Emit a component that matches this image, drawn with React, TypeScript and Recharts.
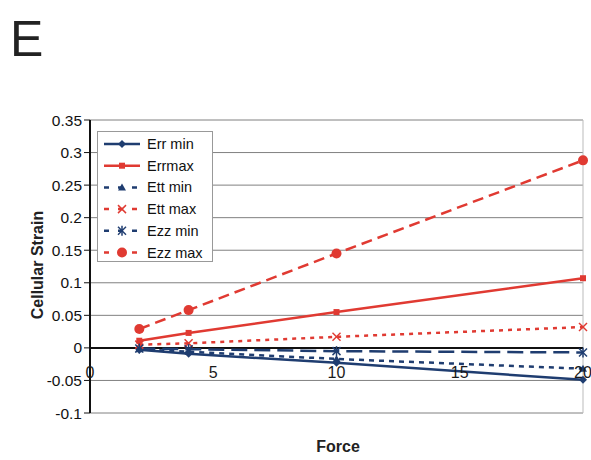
import React from "react";
import {
  CartesianGrid,
  Line,
  LineChart,
  ReferenceLine,
  XAxis,
  YAxis,
} from "recharts";

const forces = [2, 4, 10, 20];
const errMin = [-0.003, -0.009, -0.023, -0.049];
const errMax = [0.011, 0.023, 0.055, 0.107];
const ettMin = [-0.002, -0.006, -0.017, -0.032];
const ettMax = [0.005, 0.007, 0.017, 0.032];
const ezzMin = [-0.001, -0.002, -0.005, -0.007];
const ezzMax = [0.029, 0.058, 0.145, 0.288];

const xTicks = [0, 5, 10, 15, 20];
const yTicks = [-0.1, -0.05, 0, 0.05, 0.1, 0.15, 0.2, 0.25, 0.3, 0.35];

const NAVY = "#1f3d70";
const RED = "#e03a32";
const FONT = "'Liberation Sans', Arial, sans-serif";

type Shape = "diamond" | "square" | "triangle" | "cross" | "star" | "circle";

const SERIES: { key: string; name: string; color: string; dash?: string; shape: Shape }[] = [
  { key: "errMin", name: "Err min", color: NAVY, shape: "diamond" },
  { key: "errMax", name: "Errmax", color: RED, shape: "square" },
  { key: "ettMin", name: "Ett min", color: NAVY, dash: "5 5", shape: "triangle" },
  { key: "ettMax", name: "Ett max", color: RED, dash: "4 5", shape: "cross" },
  { key: "ezzMin", name: "Ezz min", color: NAVY, dash: "16 7", shape: "star" },
  { key: "ezzMax", name: "Ezz max", color: RED, dash: "11 6", shape: "circle" },
];

const data = forces.map((f, i) => ({
  force: f,
  errMin: errMin[i],
  errMax: errMax[i],
  ettMin: ettMin[i],
  ettMax: ettMax[i],
  ezzMin: ezzMin[i],
  ezzMax: ezzMax[i],
}));

function Marker({ shape, cx, cy, color }: { shape: Shape; cx: number; cy: number; color: string }) {
  if (shape === "diamond")
    return <polygon points={`${cx},${cy - 4} ${cx + 4},${cy} ${cx},${cy + 4} ${cx - 4},${cy}`} fill={color} />;
  if (shape === "square") return <rect x={cx - 3} y={cy - 3} width={6} height={6} fill={color} />;
  if (shape === "triangle")
    return <polygon points={`${cx},${cy - 4} ${cx + 4},${cy + 3} ${cx - 4},${cy + 3}`} fill={color} />;
  if (shape === "circle") return <circle cx={cx} cy={cy} r={5} fill={color} />;
  const s = 4;
  return (
    <g stroke={color} strokeWidth={1.5}>
      <line x1={cx - s} y1={cy - s} x2={cx + s} y2={cy + s} />
      <line x1={cx - s} y1={cy + s} x2={cx + s} y2={cy - s} />
      {shape === "star" && <line x1={cx} y1={cy - s - 1} x2={cx} y2={cy + s + 1} />}
    </g>
  );
}

// x labels sit just under the zero line, like the spreadsheet original
function XTick(props: any) {
  const { x, y, payload } = props;
  return (
    <text x={x} y={y - 54} dy="0.71em" textAnchor="middle" fontSize={16} fill="#1a1a1a" fontFamily={FONT}>
      {payload.value}
    </text>
  );
}

function LegendBox() {
  return (
    <div
      style={{
        position: "absolute",
        left: 97,
        top: 131,
        width: 114,
        height: 129,
        border: "1px solid #999",
        background: "#fff",
        fontFamily: FONT,
      }}
    >
      <svg width={114} height={129}>
        {SERIES.map((s, i) => {
          const cy = 12 + i * 21.7;
          return (
            <g key={s.key}>
              <line
                x1={6}
                x2={42}
                y1={cy}
                y2={cy}
                stroke={s.color}
                strokeWidth={2.5}
                strokeDasharray={s.dash ? "5 9" : undefined}
              />
              <Marker shape={s.shape} cx={24} cy={cy} color={s.color} />
              <text x={49} y={cy + 5} fontSize={14.5} fill="#111">
                {s.name}
              </text>
            </g>
          );
        })}
      </svg>
    </div>
  );
}

export default function App() {
  return (
    <div style={{ position: "absolute", left: 0, top: 0, width: 591, height: 460, background: "#fff" }}>
      <div
        style={{
          position: "absolute",
          left: 10,
          top: 14,
          fontSize: 50,
          fontFamily: FONT,
          color: "#222",
          lineHeight: 1,
        }}
      >
        E
      </div>
      <LineChart width={591} height={460} data={data} margin={{ top: 120, right: 8, left: 0, bottom: 17 }}>
        <CartesianGrid horizontal vertical={false} stroke="#808080" />
        <XAxis
          dataKey="force"
          type="number"
          domain={[0, 20]}
          ticks={xTicks}
          interval={0}
          axisLine={false}
          tickLine={false}
          tick={<XTick />}
          height={30}
        />
        <YAxis
          type="number"
          domain={[-0.1, 0.35]}
          ticks={yTicks}
          interval={0}
          width={90}
          axisLine={{ stroke: "#111", strokeWidth: 2 }}
          tickLine={{ stroke: "#111" }}
          tickSize={6}
          tick={{ fontSize: 15.5, fill: "#111", fontFamily: FONT }}
          tickFormatter={(v: number) => String(v)}
        />
        <ReferenceLine x={20} stroke="#bbb" />
        <ReferenceLine y={0} stroke="#111" strokeWidth={2} />
        {SERIES.map((s) => (
          <Line
            key={s.key}
            dataKey={s.key}
            name={s.name}
            type="linear"
            stroke={s.color}
            strokeWidth={2.5}
            strokeDasharray={s.dash}
            isAnimationActive={false}
            dot={(p: any) => <Marker key={`${s.key}-${p.index}`} shape={s.shape} cx={p.cx} cy={p.cy} color={s.color} />}
          />
        ))}
      </LineChart>
      <LegendBox />
      <div
        style={{
          position: "absolute",
          left: 38,
          top: 265,
          transform: "translate(-50%, -50%) rotate(-90deg)",
          fontFamily: FONT,
          fontWeight: "bold",
          fontSize: 16,
          color: "#222",
          whiteSpace: "nowrap",
        }}
      >
        Cellular Strain
      </div>
      <div
        style={{
          position: "absolute",
          left: 338,
          top: 447,
          transform: "translate(-50%, -50%)",
          fontFamily: FONT,
          fontWeight: "bold",
          fontSize: 16,
          color: "#222",
        }}
      >
        Force
      </div>
    </div>
  );
}
